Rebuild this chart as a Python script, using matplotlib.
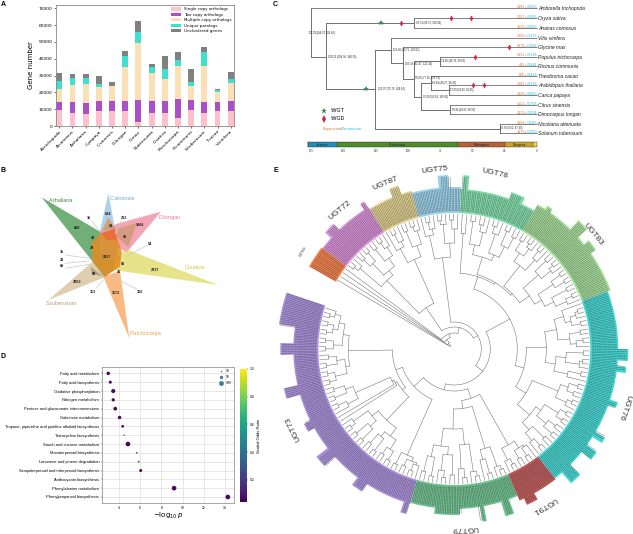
import numpy as np
import matplotlib
matplotlib.use('Agg')
import matplotlib.pyplot as plt
from matplotlib.patches import Polygon, Wedge
from matplotlib.lines import Line2D

# panel A : gene numbers
species = ['A.trichopoda', 'A.comosus', 'A.thaliana', 'C.papaya', 'C.sinensis', 'D.longan', 'G.max',
           'N.attenuata', 'O.sativa', 'P.trichocarpa', 'R.communis', 'S.tuberosum', 'T.cacao', 'V.vinifera']
single_copy = [9500, 8000, 7000, 9000, 9000, 9000, 2500, 7500, 7500, 5000, 9500, 7500, 9000, 9000]
two_copy = [4700, 6200, 6600, 5700, 5600, 6000, 12800, 7200, 7300, 10800, 5800, 6700, 5200, 6000]
multi_copy = [8100, 10100, 11400, 8300, 9100, 20000, 34200, 17100, 13000, 20200, 8400, 21800, 6300, 10300]
unique_para = [4700, 4000, 3300, 2000, 300, 6500, 6200, 3400, 6200, 3200, 2500, 8000, 800, 2500]
unclustered = [4700, 2700, 2400, 4700, 2000, 3200, 6500, 1400, 7800, 4800, 7500, 3000, 500, 4200]
a_names = ['Single copy orthologs', 'Two copy orthologs', 'Multiple copy orthologs', 'Unique paralogs', 'Unclustered genes']
a_colors = ['#ffc0cb', '#ab4fc9', '#fce0b5', '#40e0d0', '#808080']

# panel B : venn petals, read in zoomed crop coordinates
petal_names = ['A.thaliana', 'C.sinensis', 'D.longan', 'O.sativa', 'P.trichocarpa', 'S.tuberosum']
petal_colors = ['#4f9a55', '#9cc3e6', '#f08fa0', '#e0dd6e', '#f9a860', '#d9c39a']
petal_label_colors = ['#3e8e41', '#6aa5d8', '#e87a90', '#c8c83c', '#f4a04a', '#b8a070']
petal_label_xy = [(183, 105), (367, 99), (509, 158), (583, 307), (436, 505), (185, 415)]
petal_shapes = [
    [(125, 97), (300, 200), (345, 235), (358, 300), (312, 338), (278, 290)],
    [(325, 85), (345, 190), (358, 300), (300, 260), (300, 197)],
    [(483, 140), (380, 262), (340, 240), (300, 200), (355, 175)],
    [(655, 360), (340, 315), (345, 270), (385, 255)],
    [(388, 520), (310, 335), (360, 318)],
    [(145, 405), (278, 290), (316, 336)],
]
overlap_shapes = [
    ([(325, 158), (345, 190), (305, 197)], '#d39a62'),
    ([(410, 175), (385, 245), (350, 215), (355, 190)], '#cf9a78'),
    ([(300, 205), (345, 195), (365, 260), (360, 305), (315, 335), (278, 290), (275, 235)], '#e48c22'),
    ([(305, 205), (345, 190), (350, 225), (320, 225)], '#ee6a3c'),
    ([(272, 305), (310, 335), (275, 325)], '#a89880'),
]
venn_counts = ['16', '694', '212', '64', '1066', '600', '40', '50', '29', '54', '35', '33', '60',
               '9117', '50', '46', '2337', '89', '2903', '113', '1172', '156']
venn_count_xy = [(268, 160), (325, 148), (371, 160), (333, 182), (420, 180), (230, 190), (279, 218), (374, 215),
                 (277, 250), (450, 236), (186, 262), (186, 284), (186, 304), (320, 277), (368, 298), (358, 320),
                 (465, 314), (281, 328), (230, 352), (280, 380), (348, 385), (419, 380)]
leaders = [((275, 168), (298, 197)), ((365, 168), (345, 205)), ((442, 240), (380, 275)), ((196, 270), (268, 280)),
           ((196, 295), (268, 288)), ((196, 310), (268, 298)), ((288, 370), (310, 345)), ((410, 372), (335, 335))]

# panel C : species tree
tip_names = ['Amborella trichopoda', 'Oryza sativa', 'Ananas comosus', 'Vitis vinifera', 'Glycine max',
             'Populus trichocarpa', 'Ricinus communis', 'Theobroma cacao', 'Arabidopsis thaliana', 'Carica papaya',
             'Citrus sinensis', 'Dimocarpus longan', 'Nicotiana attenuata', 'Solanum tuberosum']
tip_y = [25, 55, 85, 113, 141, 170, 198, 228, 256, 285, 315, 343, 372, 399]
tip_start = [123, 433, 433, 364, 399, 511, 511, 482, 538, 538, 541, 541, 689, 689]
gain = ['1382+', '2007+', '1532+', '7066+', '6979+', '4352+', '455+', '820+', '2082+', '1869+', '1113+', '1470+', '1869+', '1470+']
loss = ['/6023-', '/5565-', '/5505-', '/3375-', '/1156-', '/5138-', '/5644-', '/6413-', '/6733-', '/6000-', '/5703-', '/5034-', '/1543-', '/3700-']
tree_h = [(123, 168, 170), (168, 433, 70), (168, 316, 268), (316, 364, 150), (364, 399, 188), (399, 431, 238),
          (431, 511, 184), (431, 454, 290), (454, 482, 250), (482, 538, 270), (454, 541, 330), (316, 689, 387)]
tree_v = [(123, 25, 170), (168, 70, 268), (433, 55, 85), (316, 150, 387), (364, 113, 188), (399, 141, 238),
          (431, 184, 290), (511, 170, 198), (454, 250, 330), (482, 228, 270), (538, 256, 285), (541, 315, 343), (689, 372, 400)]
node_text = ['171.55(144.07,205.48)', '140.21 (104.36, 184.35)', '94.73 (69.79, 120.56)', '122.07 (75.76, 149.54)',
             '112.46 (89.71, 133.02)', '103.39 (82.47, 122.42)', '95.06 (77.19, 112.79)', '90.20 (53.03, 109.90)',
             '74.80 (46.76, 89.62)', '82.94 (49.27, 98.43)', '57.09 (29.63, 81.65)', '56.96 (36.63, 80.55)', '28.78 (9.51, 47.35)']
node_xy = [(117, 100), (173, 170), (437, 70), (324, 268), (368, 150), (404, 193), (435, 235), (458, 290),
           (514, 184), (486, 250), (541, 270), (545, 329), (690, 385)]
wgt_xy = [(332, 70), (288, 268)]
wgd_xy = [(393, 70), (542, 55), (604, 55), (716, 141), (615, 170), (610, 256), (641, 256)]
era_names = ['Jurassic', 'Cretaceous', 'Paleogene', 'Neogene', '']
era_edges = [113, 200, 565, 706, 790, 802]
era_colors = ['#1f8fb8', '#4c8c2b', '#b5623a', '#c9a227', '#f0d040']
age_labels = ['175', '150', '125', '100', '75', '50', '25', '0']
age_x = [123, 220, 318, 414, 511, 608, 704, 800]

# panel D : enrichment
pathways = ['Fatty acid metabolism', 'Fatty acid biosynthesis', 'Oxidative phosphorylation', 'Nitrogen metabolism',
            'Pentose and glucuronate interconversions', 'Galactose metabolism',
            'Tropane, piperidine and pyridine alkaloid biosynthesis', 'Tetracycline biosynthesis',
            'Starch and sucrose metabolism', 'Monoterpenoid biosynthesis', 'Limonene and pinene degradation',
            'Sesquiterpenoid and triterpenoid biosynthesis', 'Anthocyanin biosynthesis',
            'Phenylalanine metabolism', 'Phenylpropanoid biosynthesis']
log_p = [2.99, 3.18, 3.46, 3.46, 3.65, 4.06, 4.35, 4.5, 4.85, 5.67, 5.86, 6.05, 8.0, 9.2, 14.27]
gene_count = [40, 30, 55, 35, 45, 40, 25, 6, 70, 10, 12, 30, 4, 70, 70]
odds_scaled = [0.06, 0.06, 0.07, 0.06, 0.06, 0.07, 0.08, 0.25, 0.06, 0.35, 0.35, 0.08, 1.0, 0.06, 0.06]

# panel E : circular tree, angles in degrees, radii in pixels, one list per clade
clade_names = ['UGT73', 'UGT79', 'UGT91', 'UGT76', 'UGT83', 'UGT78', 'UGT75', 'UGT87', 'UGT72', 'UGT89']
clade_start = [161.4, 254.1, 293.3, 307.9, 380.6, 420.0, 447.6, 465.2, 481.2, 502.6]
clade_end = [254.1, 293.3, 307.9, 380.6, 420.0, 447.6, 465.2, 481.2, 502.6, 510.4]
clade_colors = ['#a78fd8', '#6fbf8f', '#c05a5a', '#45d4d0', '#a5dc9a', '#80d8a8', '#9ad0e8', '#e0d090', '#d890d8', '#f0804a']
clade_outer = [161, 160, 165, 164, 167, 160, 162, 164, 166, 167]
clade_label_angle = [206.3, 273.4, 300.0, 341.3, 39.7, 76.9, 96.4, 112.7, 129.4, 147.4]
ugt73_merge = [124, 129, 118, 129, 123, 129, 112, 129, 121, 129, 106, 126, 118, 129, 110, 129,
               122, 129, 62, 127, 116, 129, 108, 129, 120, 70, 68, 66, 124, 129, 106, 129, 114, 129,
               98, 126, 114, 129, 108, 127, 119, 129, 55, 129, 116, 127, 120, 129, 122]
ugt79_merge = [126, 110, 129, 98, 122, 129, 106, 126, 80, 120, 129, 96, 124, 129, 60, 114, 129, 104, 125, 129]
ugt91_merge = [123, 129, 110, 127, 118, 129, 120]
ugt76_merge = [120, 129, 110, 126, 100, 129, 118, 127, 106, 129, 122, 129, 84, 124, 129, 112, 127, 120, 129, 72,
               116, 129, 102, 126, 129, 112, 129, 92, 122, 129, 116, 127, 104, 129, 120, 126, 129, 114]
ugt83_merge = [122, 129, 110, 127, 100, 129, 118, 129, 92, 124, 129, 112, 127, 80, 120, 129, 106, 125, 129, 116, 127]
ugt78_merge = [126, 114, 129, 102, 122, 129, 96, 120, 127, 106, 129, 76, 116]
ugt75_merge = [120, 129, 106, 125, 129, 92, 122, 129, 116]
ugt87_merge = [124, 129, 110, 127, 98, 120, 129, 114]
ugt72_merge = [122, 129, 112, 127, 102, 129, 118, 127, 96, 124, 129]
ugt89_merge = [12, 8, 5]
clade_merges = [ugt73_merge, ugt79_merge, ugt91_merge, ugt76_merge, ugt83_merge, ugt78_merge, ugt75_merge,
                ugt87_merge, ugt72_merge, ugt89_merge]
between_clades = [42, 52, 36, 63, 78, 27, 22, 50, 16]
# long labels stick out of the ring: start angle, end angle, outer radius
label_bumps = [(161.4, 172, 177), (178, 182, 174), (193, 196.5, 175), (206.5, 209.5, 168), (218, 222, 175),
               (233, 237, 170), (251.7, 253.7, 172), (263, 272, 166), (279.3, 280.7, 175), (287, 290, 175),
               (295, 299, 172), (311, 315, 178), (321, 324, 176), (327.5, 329.5, 175), (340, 342, 172),
               (352, 354, 173), (356, 360, 174), (395, 399, 173), (402, 406, 179), (415, 417, 171),
               (425, 430, 167), (445, 447, 174), (452, 455.5, 174), (469, 472, 173), (481.5, 483, 173),
               (494, 498, 174)]

W, H = 633, 534
fig = plt.figure(figsize=(W / 100, H / 100), dpi=100)
plt.rcParams['font.family'] = ['Liberation Sans', 'DejaVu Sans']


def crop_axes(x, y, w, h, scale=3):
    # axes that covers a crop of the page, coordinates as read from the 3x zoom
    ax = fig.add_axes([x / W, 1 - (y + h) / H, w / W, h / H])
    ax.set_xlim(0, w * scale)
    ax.set_ylim(h * scale, 0)
    ax.axis('off')
    return ax


page = crop_axes(0, 0, W, H, scale=1)
for letter, lx, ly in [('A', 3, 4), ('B', 3, 171), ('C', 275, 4), ('D', 3, 356), ('E', 276, 171)]:
    page.text(lx, ly, letter, fontsize=5, fontweight='bold', ha='center', va='center')

# --- A ---
ax = fig.add_axes([56 / W, 1 - 126 / H, 178 / W, 121 / H])
x = np.arange(len(species))
bottom = np.zeros(len(species))
for vals, name, col in zip([single_copy, two_copy, multi_copy, unique_para, unclustered], a_names, a_colors):
    ax.bar(x, vals, 0.45, bottom=bottom, color=col, label=name)
    bottom += np.array(vals)
ax.set_xlim(-0.25, 13.25)
ax.set_ylim(0, 72000)
ax.set_xticks(x)
ax.set_xticklabels(species, rotation=45, ha='right', rotation_mode='anchor', fontsize=3.2, family='DejaVu Sans')
ax.set_yticks(np.arange(0, 70001, 10000))
ax.tick_params(axis='y', labelsize=3.2, length=1.5, width=0.4, pad=1)
ax.tick_params(axis='x', length=1.5, width=0.4, pad=1)
for lab in ax.get_yticklabels():
    lab.set_family('DejaVu Sans')
ax.set_ylabel('Gene number', fontsize=5, family='DejaVu Sans', labelpad=3)
for s in ax.spines.values():
    s.set_color('#888888')
    s.set_linewidth(0.6)
ax.legend(frameon=False, loc='upper right', handlelength=2.4, handleheight=0.8, labelspacing=0.35,
          borderaxespad=0.2, prop={'family': 'DejaVu Sans', 'size': 2.9})

# --- B ---
ax = crop_axes(0, 165, 270, 175)
for shape, col in zip(petal_shapes, petal_colors):
    ax.add_patch(Polygon(shape, closed=True, fc=col, ec='none', alpha=0.8))
for shape, col in overlap_shapes:
    ax.add_patch(Polygon(shape, closed=True, fc=col, ec='none', alpha=0.85))
for p0, p1 in leaders:
    ax.plot([p0[0], p1[0]], [p0[1], p1[1]], color='#c8c8c8', lw=0.5)
for name, col, (lx, ly) in zip(petal_names, petal_label_colors, petal_label_xy):
    ax.text(lx, ly, name, color=col, fontsize=4, ha='center', va='center')
for txt, (lx, ly) in zip(venn_counts, venn_count_xy):
    ax.text(lx, ly, txt, fontsize=2.8, fontweight='bold', ha='center', va='center', color='#222222')

# --- C ---
ax = crop_axes(270, 0, 363, 165)
for i, yy in enumerate(tip_y):
    ax.plot([tip_start[i], 800], [yy, yy], color='#808080', lw=0.7, solid_capstyle='butt')
    ax.text(772, yy - 4, gain[i], color='#e07a40', fontsize=2.7, ha='right', va='center')
    ax.text(772, yy - 4, loss[i], color='#25b8e0', fontsize=2.7, ha='left', va='center')
    ax.text(805, yy + 1, tip_names[i], fontsize=3.6, style='italic', ha='left', va='center', color='#222222')
for x0, x1, yy in tree_h:
    ax.plot([x0, x1], [yy, yy], color='#707070', lw=0.7, solid_capstyle='butt')
for xx, y0, y1 in tree_v:
    ax.plot([xx, xx], [y0, y1], color='#707070', lw=0.7)
for txt, (nx, ny) in zip(node_text, node_xy):
    ax.text(nx, ny, txt, fontsize=1.9, ha='left', va='center', color='#222222')
ax.plot(*zip(*wgt_xy), linestyle='none', marker='*', ms=4, color='#2e8b3a', mew=0)
ax.plot(*zip(*wgd_xy), linestyle='none', marker='d', ms=3, color='#d8243c', mew=0)
ax.plot(162, 332, marker='*', ms=5, color='#2e8b3a', mew=0)
ax.plot(162, 357, marker='d', ms=4, color='#d8243c', mew=0)
ax.text(181, 332, ':WGT', fontsize=3.8, va='center')
ax.text(181, 357, ':WGD', fontsize=3.8, va='center')
ax.text(157, 386, 'Expansion/', fontsize=3, va='center', color='#e07a40')
ax.text(213, 386, 'Contraction', fontsize=3, va='center', color='#25b8e0')
for i, col in enumerate(era_colors):
    ax.fill_between([era_edges[i], era_edges[i + 1]], 427, 442, color=col, lw=0)
    ax.plot([era_edges[i], era_edges[i]], [427, 442], color='#333333', lw=0.3)
    ax.text((era_edges[i] + era_edges[i + 1]) / 2, 434.5, era_names[i], fontsize=2.4, ha='center', va='center', color='#222222')
ax.plot([113, 802, 802, 113, 113], [427, 427, 442, 442, 427], color='#333333', lw=0.3)
for lab, xx in zip(age_labels, age_x):
    ax.text(xx, 454, lab, fontsize=2.2, ha='center', va='center', color='#333333')

# --- D ---
ax = fig.add_axes([102 / W, 1 - 503 / H, 132 / W, 136 / H])
rows = np.arange(len(pathways))
ax.grid(color='#dddddd', lw=0.5)
ax.set_axisbelow(True)
pts = ax.scatter(log_p, rows, s=np.array(gene_count) * 0.16, c=odds_scaled, cmap='viridis', vmin=0.04, vmax=1.0, zorder=3, lw=0)
ax.set_xlim(2.4, 14.85)
ax.set_ylim(14.68, -0.72)
ax.set_yticks(rows)
ax.set_yticklabels(pathways, fontsize=2.9)
ax.set_xticks([4, 6, 8, 10, 12, 14])
ax.tick_params(axis='x', labelsize=2.4, length=1, width=0.3, pad=1)
ax.tick_params(axis='y', length=1, width=0.3, pad=1)
ax.set_xlabel(r'$-\log_{10}p$', fontsize=5, labelpad=1)
for s in ax.spines.values():
    s.set_color('#999999')
    s.set_linewidth(0.6)
size_handles = [Line2D([], [], linestyle='none', marker='o', color='#3b7ea1', mew=0, ms=np.sqrt(n * 0.12), label=str(n)) for n in [10, 50, 100]]
ax.legend(handles=size_handles, frameon=False, fontsize=2.4, loc='upper right', labelspacing=0.6, borderaxespad=0.3, handletextpad=0.4)
cax = fig.add_axes([240 / W, 1 - 502 / H, 7 / W, 133 / H])
cbar = fig.colorbar(pts, cax=cax)
cbar.outline.set_visible(False)
cbar.set_ticks([0.2, 0.4, 0.6, 0.8, 1.0])
cbar.ax.tick_params(labelsize=2.4, length=1, width=0.3, pad=1)
cbar.set_label('Scaled Odds Ratio', fontsize=3, labelpad=2)

# --- E ---
ax = fig.add_axes([270 / W, 1 - 534 / H, 363 / W, 369 / H])
ax.set_xlim(-184.3, 178.7)
ax.set_ylim(-185, 184)
ax.axis('off')
ring_in = 135


def pol(theta, r):
    t = np.radians(theta)
    return r * np.cos(t), r * np.sin(t)


# tip angles and merge radii over the whole tree
tip_theta = []
merge = []
for i, m in enumerate(clade_merges):
    n = len(m) + 1
    step = (clade_end[i] - clade_start[i]) / n
    tip_theta += list(clade_start[i] + step * (np.arange(n) + 0.5))
    merge += m
    if i < len(between_clades):
        merge.append(between_clades[i])


def draw_clade(lo, hi):
    # returns angle and radius of the node for tips lo..hi
    if lo == hi:
        return tip_theta[lo], ring_in
    k = lo + int(np.argmin(merge[lo:hi]))
    r = merge[k]
    t0, r0 = draw_clade(lo, k)
    t1, r1 = draw_clade(k + 1, hi)
    arc = np.linspace(t0, t1, 40)
    ax.plot(*pol(arc, r), color='#666666', lw=0.35)
    ax.plot(*pol(np.array([t0, t0]), np.array([r, r0])), color='#666666', lw=0.35)
    ax.plot(*pol(np.array([t1, t1]), np.array([r, r1])), color='#666666', lw=0.35)
    return (t0 + t1) / 2, r


draw_clade(0, len(tip_theta) - 1)

for i, name in enumerate(clade_names):
    ax.add_patch(Wedge((0, 0), clade_outer[i], clade_start[i], clade_end[i], width=clade_outer[i] - ring_in - 1,
                       fc=clade_colors[i], ec='none'))
    for t0, t1, r in label_bumps:
        if clade_start[i] <= t0 < clade_end[i]:
            ax.add_patch(Wedge((0, 0), r, t0, t1, width=r - clade_outer[i] + 0.5, fc=clade_colors[i], ec='none'))
    lx, ly = pol(clade_label_angle[i], 180)
    ax.text(lx, ly, name, rotation=clade_label_angle[i] - 90, rotation_mode='anchor', ha='center', va='center',
            fontsize=2.6 if name == 'UGT89' else 6, color='#333333')

# the tip names are too small to read, they show as dark strokes across the ring
for th in tip_theta:
    i = int(np.searchsorted(clade_end, th))
    r_out = clade_outer[min(i, len(clade_outer) - 1)]
    for t0, t1, r in label_bumps:
        if t0 <= th <= t1:
            r_out = r
    for off in (-0.6, 0, 0.6):
        # broken stroke, so it reads as small print and not as a solid bar
        ax.plot(*pol(np.array([th + off, th + off]), np.array([ring_in + 3, r_out - 1.5])), color='#333333',
                lw=0.45, alpha=0.6, dashes=(3, 0.6))

fig.savefig('out.png', dpi=100)
